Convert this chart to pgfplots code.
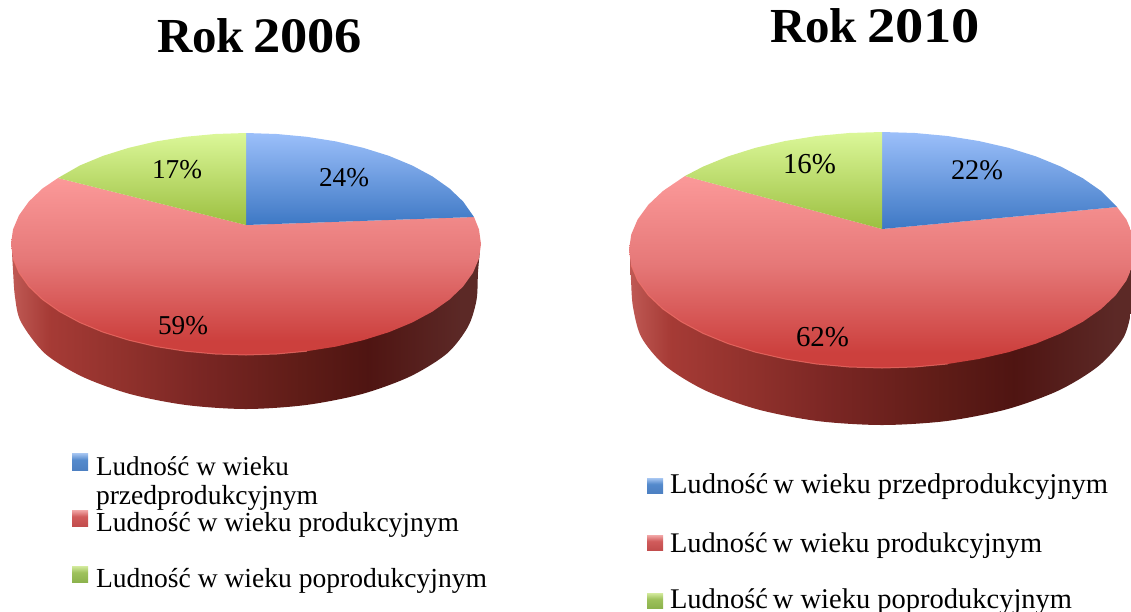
\documentclass[border=0pt]{standalone}
\usepackage{graphicx}
\usepackage{fontspec}
\setmainfont{Liberation Serif}
\usepackage{pgfplots}
\pgfplotsset{compat=1.18}
\pgfdeclareverticalshading{redtop}{100bp}{rgb(0bp)=(.79,.24,.22); rgb(29bp)=(.80,.25,.24); rgb(52bp)=(.90,.47,.47); rgb(75bp)=(.985,.60,.60); rgb(100bp)=(.985,.60,.60)}
\pgfdeclareverticalshading{bluetop}{100bp}{rgb(0bp)=(.24,.47,.77); rgb(25bp)=(.24,.47,.77); rgb(75bp)=(.61,.75,.98); rgb(100bp)=(.61,.75,.98)}
\pgfdeclareverticalshading{greentop}{100bp}{rgb(0bp)=(.61,.75,.25); rgb(25bp)=(.61,.75,.25); rgb(75bp)=(.86,.97,.60); rgb(100bp)=(.86,.97,.60)}
\pgfdeclareverticalshading{keyblue}{100bp}{rgb(0bp)=(.30,.50,.76); rgb(25bp)=(.30,.50,.76); rgb(55bp)=(.33,.54,.80); rgb(75bp)=(.66,.78,.95); rgb(100bp)=(.66,.78,.95)}
\pgfdeclareverticalshading{keyred}{100bp}{rgb(0bp)=(.76,.30,.30); rgb(25bp)=(.76,.30,.30); rgb(55bp)=(.82,.36,.36); rgb(75bp)=(.95,.66,.66); rgb(100bp)=(.95,.66,.66)}
\pgfdeclareverticalshading{keygreen}{100bp}{rgb(0bp)=(.55,.70,.30); rgb(25bp)=(.55,.70,.30); rgb(55bp)=(.62,.76,.36); rgb(75bp)=(.83,.92,.62); rgb(100bp)=(.83,.92,.62)}
\pgfdeclarehorizontalshading{sideshade}{100bp}{rgb(0bp)=(.75,.35,.33); rgb(25bp)=(.75,.35,.33); rgb(29bp)=(.65,.23,.21); rgb(37.5bp)=(.56,.19,.17); rgb(45bp)=(.48,.15,.14); rgb(56bp)=(.37,.11,.09); rgb(63bp)=(.31,.08,.07); rgb(73bp)=(.36,.16,.15); rgb(75bp)=(.36,.16,.15); rgb(100bp)=(.36,.16,.15)}
\newcommand\T[4]{\node[anchor=base west,inner sep=0pt,outer sep=0pt] at (axis cs:#1,#2) {\resizebox{#3pt}{!}{#4}};}
\newcommand\TT[6]{\node[anchor=base west,inner sep=0pt,outer sep=0pt] at (axis cs:#1,#2) {\bfseries\resizebox{#3pt}{!}{Rok}\hspace{#4pt}\resizebox{#5pt}{33pt}{#6}};}
\begin{document}
\begin{tikzpicture}
\begin{axis}[name=ax,width=1131pt,height=611pt,scale only axis,xmin=0,xmax=1131,ymin=0,ymax=611,y dir=reverse,hide axis]
% ---- left pie: side
\addplot[smooth,draw=none,shade,shading=sideshade] coordinates {(12,252)(13,270)(15,297)(21,322)(45,353.5)(82,376.5)(130,394)(186,405)(246,409)(306,405)(362,394)(410,376.5)(447,353.5)(468,326.7)(476.5,300)(478,272)(480,250)} -- cycle;
% red
\addplot[draw=none,shade,shading=redtop] coordinates {(246,225)(58,178)(42.5,188.5)(28.9,201.5)(19,215.3)(13,229.5)(11,244)(13,258.5)(19,272.7)(28.9,286.5)(42.5,299.5)(59.6,311.6)(79.8,322.5)(102.9,332.1)(128.5,340.1)(156.1,346.6)(185.2,351.2)(215.3,354)(246,355)(276.7,354)(306.8,351.2)(335.9,346.6)(363.5,340.1)(389.1,332.1)(412.2,322.5)(432.4,311.6)(449.5,299.5)(463.1,286.5)(473,272.7)(479,258.5)(481,244)(479,229.5)(474,217)} -- cycle;
% rim
\addplot[draw={rgb,1:red,.95;green,.45;blue,.42},line width=1pt,opacity=.7] coordinates {(13,258.5)(19,272.7)(28.9,286.5)(42.5,299.5)(59.6,311.6)(79.8,322.5)(102.9,332.1)(128.5,340.1)(156.1,346.6)(185.2,351.2)(215.3,354)(246,355)(276.7,354)(306.8,351.2)};
% blue
\addplot[draw=none,shade,shading=bluetop] coordinates {(246,225)(246,133)(276.7,134)(306.8,136.8)(335.9,141.4)(363.5,147.9)(389.1,155.9)(412.2,165.5)(432.4,176.4)(449.5,188.5)(463.1,201.5)(474,217)} -- cycle;
% green
\addplot[draw=none,shade,shading=greentop] coordinates {(246,225)(246,133)(215.3,134)(185.2,136.8)(156.1,141.4)(128.5,147.9)(102.9,155.9)(79.8,165.5)(58,178)} -- cycle;
% ---- right pie: side
\addplot[smooth,draw=none,shade,shading=sideshade] coordinates {(630,258)(631,280)(633,307)(641.5,337.5)(665.5,366)(705.2,390.4)(757,409.2)(817.3,421)(882,425)(946.7,421)(1007,409.2)(1058.8,390.4)(1098.5,366)(1123.5,337.5)(1132,307)(1134,280)(1135,252)} -- cycle;
% red
\addplot[draw=none,shade,shading=redtop] coordinates {(882,229)(685,176)(662.9,191)(648.3,204.8)(637.6,219.5)(631.2,234.6)(629,250)(631.2,265.4)(637.6,280.5)(648.3,295.2)(662.9,309)(681.3,321.8)(703.1,333.4)(728,343.6)(755.5,352.2)(785.2,359)(816.5,364)(849,367)(882,368)(915,367)(947.5,364)(978.8,359)(1008.5,352.2)(1036,343.6)(1060.9,333.4)(1082.7,321.8)(1101.1,309)(1115.7,295.2)(1126.4,280.5)(1132.8,265.4)(1135,250)(1132.8,234.6)(1126.4,219.5)(1117,207)} -- cycle;
\addplot[draw={rgb,1:red,.95;green,.45;blue,.42},line width=1pt,opacity=.7] coordinates {(631.2,265.4)(637.6,280.5)(648.3,295.2)(662.9,309)(681.3,321.8)(703.1,333.4)(728,343.6)(755.5,352.2)(785.2,359)(816.5,364)(849,367)(882,368)(915,367)(947.5,364)};
% blue
\addplot[draw=none,shade,shading=bluetop] coordinates {(882,229)(882,132)(915,133)(947.5,136)(978.8,141)(1008.5,147.8)(1036,156.4)(1060.9,166.6)(1082.7,178.2)(1101.1,191)(1117,207)} -- cycle;
% green
\addplot[draw=none,shade,shading=greentop] coordinates {(882,229)(882,132)(849,133)(816.5,136)(785.2,141)(755.5,147.8)(728,156.4)(703.1,166.6)(685,176)} -- cycle;
% ---- legend keys
\addplot[draw=none,shade,shading=keyblue] coordinates {(72,453)(88,453)(88,470)(72,470)} -- cycle;
\addplot[draw=none,shade,shading=keyred] coordinates {(72,510)(88,510)(88,526)(72,526)} -- cycle;
\addplot[draw=none,shade,shading=keygreen] coordinates {(72,566)(88,566)(88,582)(72,582)} -- cycle;
\addplot[draw=none,shade,shading=keyblue] coordinates {(647,478)(663,478)(663,493)(647,493)} -- cycle;
\addplot[draw=none,shade,shading=keyred] coordinates {(647,535)(663,535)(663,550)(647,550)} -- cycle;
\addplot[draw=none,shade,shading=keygreen] coordinates {(647,593)(663,593)(663,608)(647,608)} -- cycle;
% ---- titles
\TT{157}{52}{87}{9}{109}{2006}
\TT{770}{42}{87}{10}{113}{2010}
% ---- data labels
\T{319}{186}{50}{24\%}
\T{152}{178}{50}{17\%}
\T{158}{334}{50}{59\%}
\T{951}{179}{52}{22\%}
\T{783}{173}{53}{16\%}
\T{796}{346}{53}{62\%}
% ---- legend text
\T{96}{475}{193}{Ludność w wieku}
\T{96}{504}{222}{przedprodukcyjnym}
\T{96}{531}{363}{Ludność w wieku produkcyjnym}
\T{96}{587}{391}{Ludność w wieku poprodukcyjnym}
\T{670}{493}{438}{Ludność\hspace{-.08em} w wieku przedprodukcyjnym}
\T{670}{552}{372}{Ludność\hspace{-.08em} w wieku produkcyjnym}
\T{670}{608}{402}{Ludność\hspace{-.08em} w wieku poprodukcyjnym}
\end{axis}
\pgfresetboundingbox
\path (ax.south west) rectangle (ax.north east);
\end{tikzpicture}
\end{document}
